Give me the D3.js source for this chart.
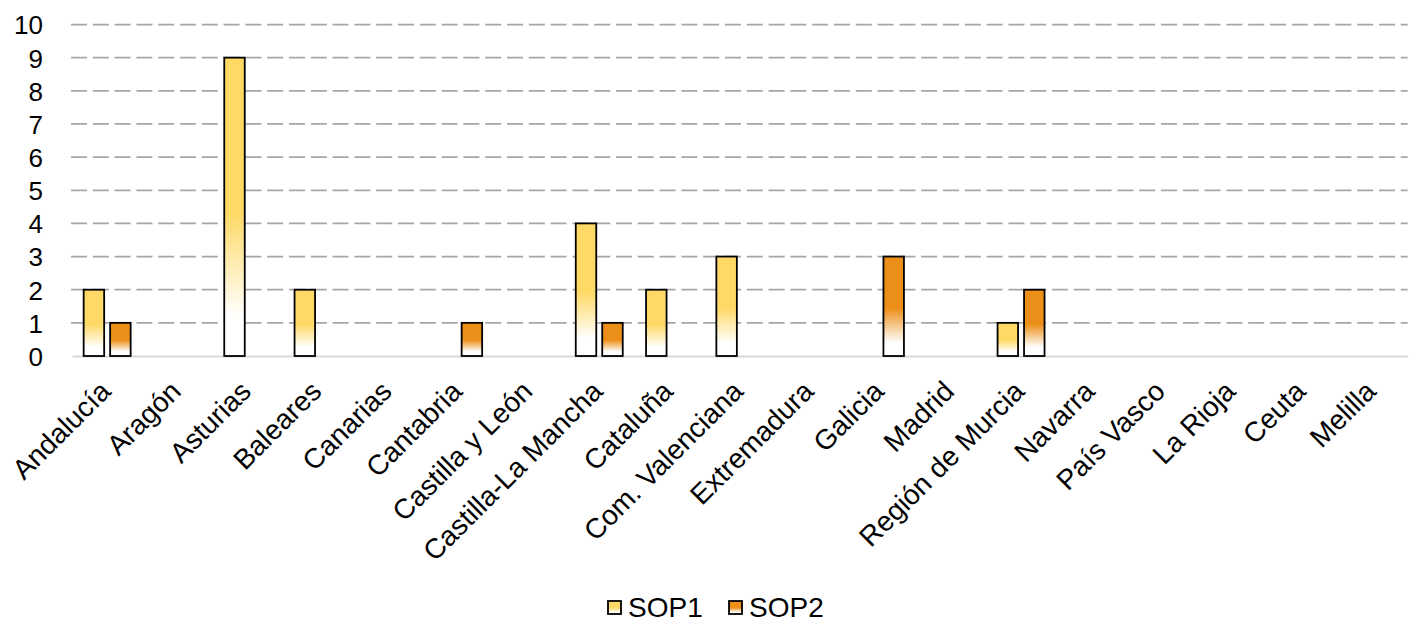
<!DOCTYPE html>
<html><head><meta charset="utf-8">
<script src="https://cdn.jsdelivr.net/npm/d3@7"></script>
<style>body{margin:0;background:#fff}svg{display:block}text{font-family:"Liberation Sans",Arial,sans-serif;fill:#000}</style>
</head><body>
<svg id="c" width="1410" height="628"></svg>
<script>
const categories = ["Andalucía","Aragón","Asturias","Baleares","Canarias","Cantabria","Castilla y León","Castilla-La Mancha","Cataluña","Com. Valenciana","Extremadura","Galicia","Madrid","Región de Murcia","Navarra","País Vasco","La Rioja","Ceuta","Melilla"];
const sop1 = [2,0,9,2,0,0,0,4,2,3,0,0,0,1,0,0,0,0,0];
const sop2 = [1,0,0,0,0,1,0,1,0,0,0,3,0,2,0,0,0,0,0];
const seriesNames = ["SOP1","SOP2"];
const seriesColors = ["#fed966","#ec8f18"];
const yTicks = [0,1,2,3,4,5,6,7,8,9,10];

const svg = d3.select("#c");
const W = 1410, H = 628;
const m = {l:72, r:2.3, t:24.5, b:272};
const x0 = d3.scaleBand().domain(categories).range([m.l, W-m.r]).paddingInner(0).paddingOuter(0);
const x1 = d3.scaleBand().domain(seriesNames).range([0, x0.bandwidth()]).paddingInner(0.226).paddingOuter(0.44);
const y = d3.scaleLinear().domain([0,10]).range([H-m.b, m.t]);

const defs = svg.append("defs");
seriesColors.forEach((c,i)=>{
  const g = defs.append("linearGradient").attr("id","g"+i).attr("x1",0).attr("y1",0).attr("x2",0).attr("y2",1);
  g.append("stop").attr("offset","0").attr("stop-color",c);
  g.append("stop").attr("offset","0.52").attr("stop-color",c);
  g.append("stop").attr("offset","0.87").attr("stop-color","#fff");
  g.append("stop").attr("offset","1").attr("stop-color","#fff");
});

// gridlines
svg.append("g").selectAll("line").data(yTicks.filter(d=>d>0)).join("line")
  .attr("x1",m.l-1).attr("x2",W-m.r).attr("y1",d=>y(d)).attr("y2",d=>y(d))
  .attr("stroke","#a6a6a6").attr("stroke-width",1.75).attr("stroke-dasharray","16,5.8");

// y axis
const ya = svg.append("g").attr("transform",`translate(${m.l},0)`)
  .call(d3.axisLeft(y).tickValues(yTicks).tickSize(0).tickPadding(29));
ya.select(".domain").remove();
ya.selectAll("text").attr("font-size",26).attr("font-family","Liberation Sans, Arial, sans-serif").attr("fill","#000").attr("dy","0.36em");

// x axis
const xa = svg.append("g").attr("transform",`translate(0,${y(0)})`)
  .call(d3.axisBottom(x0).tickSize(0).tickPadding(0));
xa.select(".domain").attr("stroke","#d9d9d9").attr("stroke-width",2);
xa.selectAll("text").attr("font-size",28).attr("font-family","Liberation Sans, Arial, sans-serif").attr("fill","#000")
  .attr("text-anchor","end").attr("dy",0).attr("y",0)
  .attr("transform","translate(5,37) rotate(-45)");

// bars
const data = [sop1, sop2];
const groups = svg.append("g");
data.forEach((vals,si)=>{
  groups.append("g").selectAll("rect").data(vals.map((v,i)=>({v,c:categories[i]})).filter(d=>d.v>0)).join("rect")
    .attr("x",d=>x0(d.c)+x1(seriesNames[si]))
    .attr("width",x1.bandwidth())
    .attr("y",d=>y(d.v))
    .attr("height",d=>y(0)-y(d.v))
    .attr("fill",`url(#g${si})`)
    .attr("stroke","#000").attr("stroke-width",1.8);
});

// legend
const lg = svg.append("g");
const lx = [607, 728];
seriesNames.forEach((n,i)=>{
  lg.append("rect").attr("x",lx[i]+1).attr("y",601).attr("width",13).attr("height",13)
    .attr("fill",`url(#g${i})`).attr("stroke","#000").attr("stroke-width",1.8);
  lg.append("text").attr("x",lx[i]+21).attr("y",617).attr("font-size",28).text(n);
});
</script>
</body></html>
